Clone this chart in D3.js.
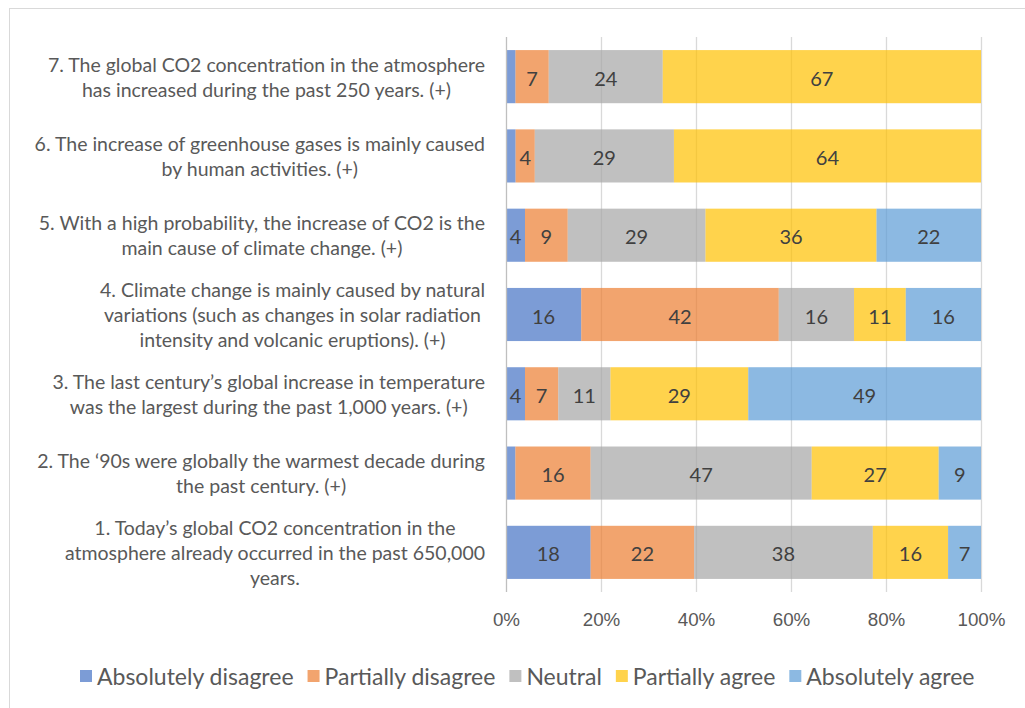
<!DOCTYPE html>
<html>
<head>
<meta charset="utf-8">
<script src="https://cdn.jsdelivr.net/npm/d3@7"></script>
<style>
  body { margin: 0; background: #fff; }
  svg { display: block; font-family: Lato, "Open Sans", sans-serif; }
  .catLabel { fill: #595959; font-size: 19.5px; }
  .valLabel { fill: #404040; font-size: 20px; }
  .tick text { fill: #595959; font-size: 18.8px; }
  .legendTxt { fill: #595959; font-size: 23px; }
</style>
</head>
<body>
<div id="chart"></div>
<script>
// statements, top to bottom as drawn
var categories = [
  "7. The global CO2 concentration in the atmosphere|has increased during the past 250 years. (+)",
  "6. The increase of greenhouse gases is mainly caused|by human activities. (+)",
  "5. With a high probability, the increase of CO2 is the|main cause of climate change. (+)",
  "4. Climate change is mainly caused by natural|variations (such as changes in solar radiation|intensity and volcanic eruptions). (+)",
  "3. The last century\u2019s global increase in temperature|was the largest during the past 1,000 years. (+)",
  "2. The \u201890s were globally the warmest decade during|the past century. (+)",
  "1. Today\u2019s global CO2 concentration in the|atmosphere already occurred in the past 650,000|years."
];
var seriesNames = ["Absolutely disagree", "Partially disagree", "Neutral", "Partially agree", "Absolutely agree"];
var seriesColors = ["#4472C4", "#ED7D31", "#A5A5A5", "#FFC000", "#5B9BD5"];

var absolutelyDisagree = [2, 2, 4, 16, 4, 2, 18];
var partiallyDisagree  = [7, 4, 9, 42, 7, 16, 22];
var neutral            = [24, 29, 29, 16, 11, 47, 38];
var partiallyAgree     = [67, 64, 36, 11, 29, 27, 16];
var absolutelyAgree    = [0, 0, 22, 16, 49, 9, 7];

var xTicks = [0, 0.2, 0.4, 0.6, 0.8, 1];

(function () {
  'use strict'

  var W = 1025, H = 708;
  var margin = {top: 37, left: 506, right: 44, bottom: 116};
  var width = W - margin.left - margin.right,
      height = H - margin.top - margin.bottom;

  var seriesData = [absolutelyDisagree, partiallyDisagree, neutral, partiallyAgree, absolutelyAgree];
  var rows = categories.map(function (c, i) {
    var r = {cat: c};
    seriesNames.forEach(function (s, k) { r[s] = seriesData[k][i]; });
    return r;
  });

  var stacked = d3.stack().keys(seriesNames).offset(d3.stackOffsetExpand)(rows);

  var svg = d3.select("#chart").append("svg")
    .attr("width", W).attr("height", H);

  // chart frame
  svg.append("rect")
    .attr("x", 9.5).attr("y", 8.5)
    .attr("width", W + 20).attr("height", H + 20)
    .attr("fill", "none").attr("stroke", "#d9d9d9");

  var g = svg.append("g").attr("transform", "translate(" + margin.left + "," + margin.top + ")");

  var x = d3.scaleLinear().domain([0, 1]).range([0, width]);
  var y = d3.scaleBand().domain(categories).range([0, height]).paddingInner(0.33).paddingOuter(0.165);
  var color = d3.scaleOrdinal().domain(seriesNames).range(seriesColors);

  // gridlines
  g.append("g").selectAll("line")
    .data(xTicks.slice(1))
    .enter().append("line")
    .attr("x1", function (d) { return Math.round(x(d)) + 0.5; })
    .attr("x2", function (d) { return Math.round(x(d)) + 0.5; })
    .attr("y1", 0).attr("y2", height)
    .attr("stroke", "#d9d9d9").attr("stroke-width", 1.3);

  // bars
  var layer = g.selectAll(".layer")
    .data(stacked)
    .enter().append("g")
    .attr("class", "layer")
    .attr("fill", function (d) { return color(d.key); })
    .attr("fill-opacity", 0.7);

  layer.selectAll("rect")
    .data(function (d) { return d; })
    .enter().append("rect")
    .attr("x", function (d) { return x(d[0]); })
    .attr("width", function (d) { return x(d[1]) - x(d[0]); })
    .attr("y", function (d) { return y(d.data.cat); })
    .attr("height", y.bandwidth());

  // value labels (small ones are not shown in the original)
  stacked.forEach(function (s) {
    g.append("g").selectAll("text")
      .data(s.filter(function (d) { return d.data[s.key] >= 3; }))
      .enter().append("text")
      .attr("class", "valLabel")
      .attr("text-anchor", "middle")
      .attr("dominant-baseline", "central")
      .attr("x", function (d) { return x((d[0] + d[1]) / 2); })
      .attr("y", function (d) { return y(d.data.cat) + y.bandwidth() / 2 + 1; })
      .text(function (d) { return d.data[s.key]; });
  });

  // vertical axis line
  g.append("line")
    .attr("x1", 0.5).attr("x2", 0.5).attr("y1", 0).attr("y2", height)
    .attr("stroke", "#bfbfbf").attr("stroke-width", 1.3);

  // x axis
  var xAxis = g.append("g")
    .attr("transform", "translate(0," + height + ")")
    .call(d3.axisBottom(x).tickValues(xTicks).tickFormat(d3.format(".0%")).tickSize(0).tickPadding(21));
  xAxis.select(".domain").remove();

  // category labels, wrapped lines centred over their widest line
  var labelRight = margin.left - 21;
  categories.forEach(function (c) {
    var lines = c.split("|");
    var lg = svg.append("g");
    var lh = 25;
    var cy = margin.top + y(c) + y.bandwidth() / 2;
    var t = lg.selectAll("text").data(lines).enter().append("text")
      .attr("class", "catLabel")
      .attr("text-anchor", "middle")
      .attr("dominant-baseline", "central")
      .attr("y", function (d, i) { return cy + (i - (lines.length - 1) / 2) * lh; })
      .text(function (d) { return d; });
    var maxW = 0;
    t.each(function () { maxW = Math.max(maxW, this.getComputedTextLength()); });
    t.attr("x", labelRight - maxW / 2);
  });

  // legend
  var legend = svg.append("g").attr("transform", "translate(0,676)");
  var lx = 80;
  seriesNames.forEach(function (s) {
    legend.append("rect")
      .attr("x", lx).attr("y", -6).attr("width", 12).attr("height", 12)
      .attr("fill", color(s)).attr("fill-opacity", 0.7);
    var tx = legend.append("text")
      .attr("class", "legendTxt")
      .attr("x", lx + 17).attr("y", 0)
      .attr("dominant-baseline", "central")
      .text(s);
    lx = lx + 17 + tx.node().getComputedTextLength() + 14;
  });
})()
</script>
</body>
</html>
